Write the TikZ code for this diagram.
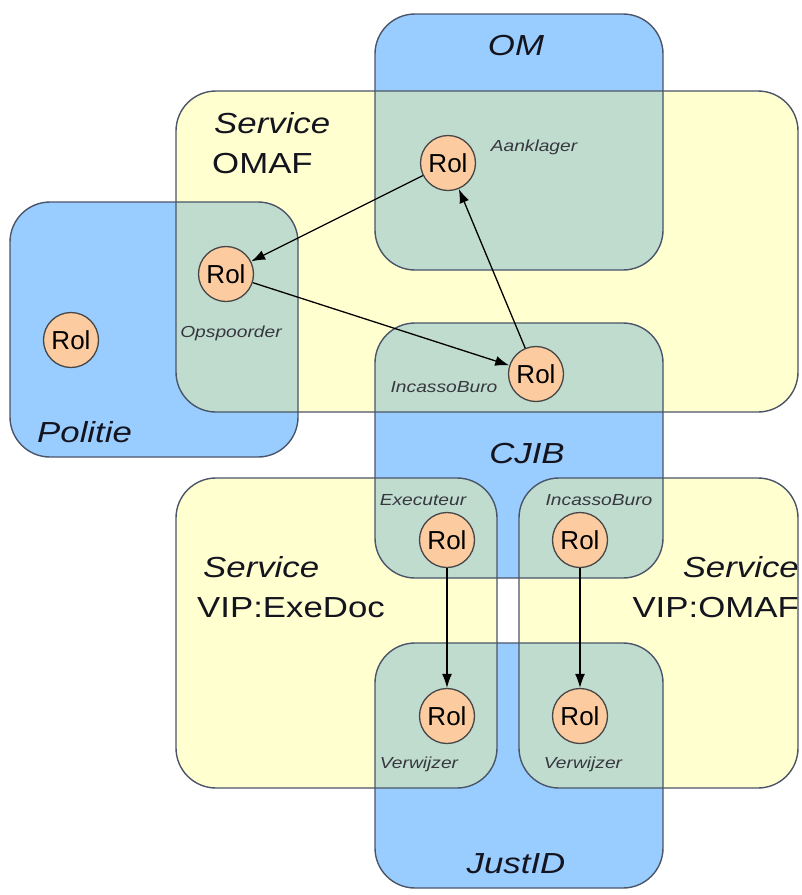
\documentclass[tikz,border=0pt]{standalone}
\usepackage{fontspec}
\setmainfont{Liberation Sans}
\newfontfamily\widefont[FakeStretch=1.2]{Liberation Sans}
\usetikzlibrary{arrows.meta}
\definecolor{boxblue}{RGB}{153,204,255}
\definecolor{boxyellow}{RGB}{255,255,208}
\definecolor{boxgreen}{RGB}{192,220,206}
\definecolor{edgecol}{RGB}{75,85,105}
\definecolor{rolfill}{RGB}{252,204,160}
\definecolor{rolline}{RGB}{70,70,70}
\definecolor{inkcol}{RGB}{20,20,30}
\begin{document}
\begin{tikzpicture}[x=1pt,y=-1pt,
  area/.style={rounded corners=40pt},
  outline/.style={area,draw=edgecol,line width=1.4pt},
  big/.style={inner sep=0pt,text=inkcol,font=\widefont\fontsize{29}{29}\selectfont},
  small/.style={inner sep=0pt,text=inkcol!85,font=\widefont\itshape\fontsize{16}{16}\selectfont},
  rol/.style={circle,draw=rolline,line width=1.3pt,fill=rolfill,minimum size=55pt,inner sep=0pt,
    font=\fontsize{26}{26}\selectfont,text=black},
  arr/.style={draw=black,line width=1.3pt,-{Latex[length=14pt,width=10pt]}}]
\useasboundingbox (0,0) rectangle (802,895);
\def\rOM{(375,14) rectangle (663,270)}
\def\rOMAF{(176,91) rectangle (798,412)}
\def\rPol{(10,202) rectangle (298,457)}
\def\rCJIB{(375,323) rectangle (663,578)}
\def\rJust{(375,643) rectangle (663,888)}
\def\rExe{(176,478) rectangle (497,788)}
\def\rVip{(519,478) rectangle (798,788)}
% fills
\fill[boxyellow,area] \rOMAF;
\fill[boxyellow,area] \rExe;
\fill[boxyellow,area] \rVip;
\fill[boxblue,area] \rOM;
\fill[boxblue,area] \rPol;
\fill[boxblue,area] \rCJIB;
\fill[boxblue,area] \rJust;
% overlaps
\begin{scope}\clip[area] \rOMAF; \fill[boxgreen,area] \rOM; \end{scope}
\begin{scope}\clip[area] \rOMAF; \fill[boxgreen,area] \rPol; \end{scope}
\begin{scope}\clip[area] \rOMAF; \fill[boxgreen,area] \rCJIB; \end{scope}
\begin{scope}\clip[area] \rExe; \fill[boxgreen,area] \rCJIB; \end{scope}
\begin{scope}\clip[area] \rExe; \fill[boxgreen,area] \rJust; \end{scope}
\begin{scope}\clip[area] \rVip; \fill[boxgreen,area] \rCJIB; \end{scope}
\begin{scope}\clip[area] \rVip; \fill[boxgreen,area] \rJust; \end{scope}
% outlines
\draw[outline] \rOMAF;
\draw[outline] \rExe;
\draw[outline] \rVip;
\draw[outline] \rOM;
\draw[outline] \rPol;
\draw[outline] \rCJIB;
\draw[outline] \rJust;
% big labels
\node[big,anchor=base] (tOM) at (516,55) {\itshape OM};
\node[big,anchor=base west] (tServA) at (214,133) {\itshape Service};
\node[big,anchor=base west] (tOMAF) at (212,173) {OMAF};
\node[big,anchor=base west] (tPol) at (37,442) {\itshape Politie};
\node[big,anchor=base] (tCJIB) at (527,463) {\itshape CJIB};
\node[big,anchor=base] (tJust) at (516,873) {\itshape JustID};
\node[big,anchor=base west] (tServB) at (203,577) {\itshape Service};
\node[big,anchor=base west] (tExeDoc) at (197,617) {VIP:ExeDoc};
\node[big,anchor=base east] (tServC) at (799,577) {\itshape Service};
\node[big,anchor=base east] (tVipOMAF) at (799,617) {VIP:OMAF};
% small labels
\node[small,anchor=base] (lAank) at (534,151) {Aanklager};
\node[small,anchor=base] (lOps) at (231,337) {Opspoorder};
\node[small,anchor=base] (lInc) at (444,392) {IncassoBuro};
\node[small,anchor=base] (lExe) at (423,505) {Executeur};
\node[small,anchor=base] (lIncB) at (599,505) {IncassoBuro};
\node[small,anchor=base] (lVerA) at (419,768) {Verwijzer};
\node[small,anchor=base] (lVerB) at (583,768) {Verwijzer};
% roles
\node[rol] (rPol) at (71,340) {Rol};
\node[rol] (rAank) at (448,163) {Rol};
\node[rol] (rOps) at (226,274) {Rol};
\node[rol] (rInc) at (536,374) {Rol};
\node[rol] (rExe) at (447,540) {Rol};
\node[rol] (rIncB) at (580,540) {Rol};
\node[rol] (rVerA) at (447,716) {Rol};
\node[rol] (rVerB) at (580,716) {Rol};
% arrows
\draw[arr] (rAank) -- (rOps);
\draw[arr] (rOps) -- (rInc);
\draw[arr] (rInc) -- (rAank);
\draw[arr] (rExe) -- (rVerA);
\draw[arr] (rIncB) -- (rVerB);
\end{tikzpicture}
\end{document}
